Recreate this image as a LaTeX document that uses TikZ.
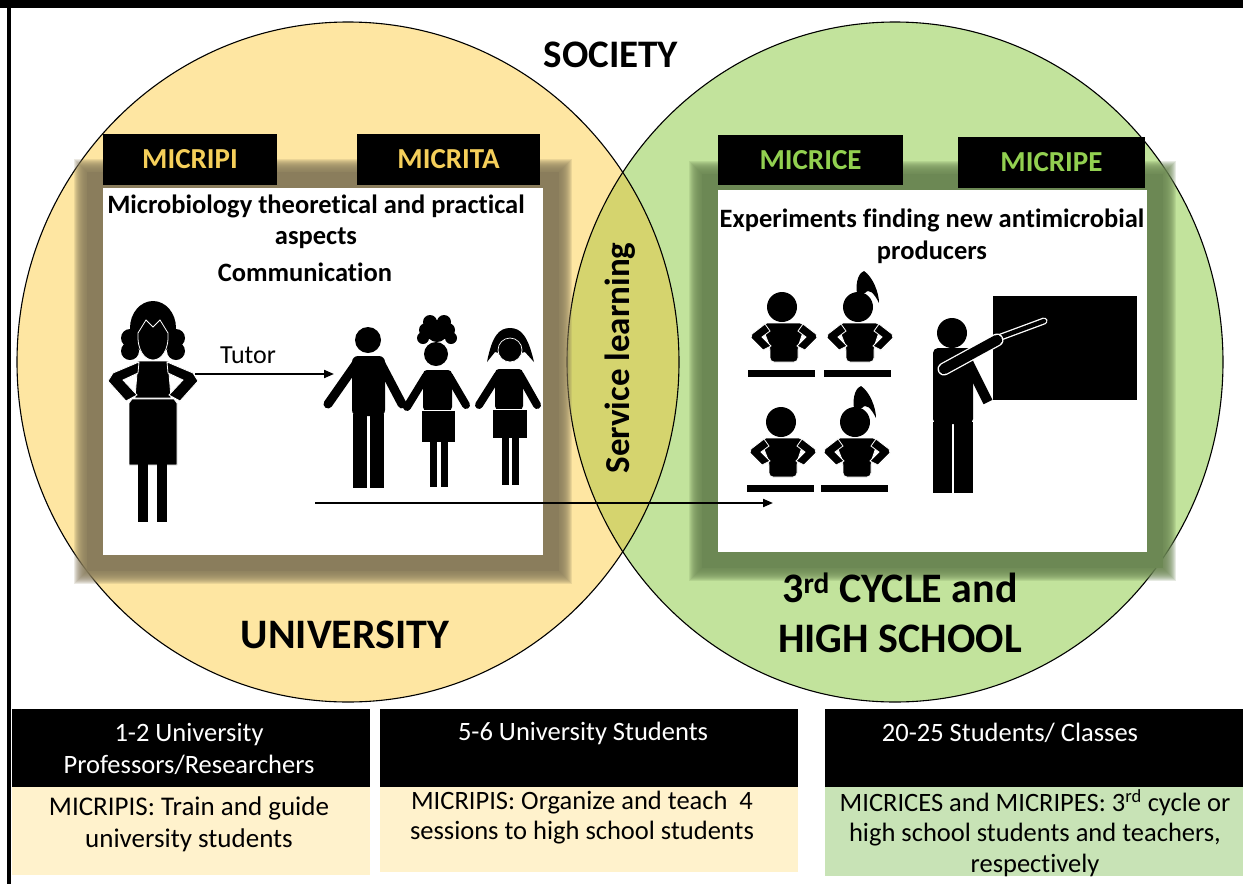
\documentclass[tikz,border=0pt]{standalone}
\usepackage{fontspec}
\setmainfont{Carlito}[Ligatures=NoCommon]
\usetikzlibrary{arrows.meta}

\definecolor{uniFill}{HTML}{FEE6A2}
\definecolor{schoolFill}{HTML}{C2E39C}
\definecolor{lensFill}{HTML}{D5D46E}
\definecolor{uniShade}{HTML}{8A7D5C}
\definecolor{schoolShade}{HTML}{6C8854}
\definecolor{goldText}{HTML}{F5CF5A}
\definecolor{greenText}{HTML}{92D050}
\definecolor{creamBox}{HTML}{FFF2CC}
\definecolor{greenBox}{HTML}{C8E3B6}

\newcommand\fsz[2]{\fontsize{#1pt}{#2pt}\selectfont}

% seated pupil: head centre (#1,#2)
\newcommand\seatedpupil[2]{%
  \fill (#1,#2) circle [radius=15];
  \filldraw[ink, rounded corners=4pt] (#1-19,#2+16) -- (#1+22,#2+16) -- (#1+22,#2+22) -- (#1+16,#2+40)
     -- (#1+16,#2+55) -- (#1-12,#2+55) -- (#1-12,#2+40) -- (#1-19,#2+22) -- cycle;
  \filldraw[ink] (#1-17,#2+17) -- (#1-30,#2+27) -- (#1-31,#2+31) -- (#1-19,#2+43) -- (#1-11,#2+39)
     -- (#1-20,#2+30) -- (#1-12,#2+24) -- cycle;
  \filldraw[ink] (#1+21,#2+17) -- (#1+34,#2+27) -- (#1+35,#2+31) -- (#1+23,#2+43) -- (#1+15,#2+39)
     -- (#1+24,#2+30) -- (#1+16,#2+24) -- cycle;
  \fill (#1-34,#2+63) rectangle (#1+33,#2+70);
}
% ponytail on top of a head centred at (#1,#2)
\newcommand\ponytail[2]{%
  \fill (#1-1,#2-13) .. controls (#1-3,#2-27) and (#1+2,#2-35) .. (#1+6,#2-36)
     .. controls (#1+15,#2-30) and (#1+21,#2-14) .. (#1+21,#2-4)
     .. controls (#1+16,#2-14) and (#1+11,#2-19) .. (#1+7,#2-14) -- cycle;
}
% soft shadow around a panel: colour, x1, y1, x2, y2
\newcommand\panelshadow[5]{%
  \foreach \d in {29,28,...,17}
    \fill[#1, opacity=0.17] (#2-\d,#3-\d) rectangle (#4+\d,#5+\d);
  \fill[#1] (#2-16,#3-16) rectangle (#4+16,#5+16);
}

\begin{document}
\begin{tikzpicture}[x=1pt,y=-1pt,
  tag/.style={fill=black, minimum height=51pt, inner sep=0pt, font=\bfseries\fsz{29}{33}},
  heading/.style={font=\bfseries\fsz{26.5}{31}, align=center},
  big/.style={font=\bfseries\fsz{42}{50}, align=center},
  boxtext/.style={font=\fsz{27}{31}, align=center, inner sep=0pt},
  arr/.style={line width=2pt, -{Triangle[length=10pt,width=8pt]}},
  ink/.style={fill=black, draw=white, line width=0.8pt},
  limb/.style={line width=9pt, line cap=round}]

\useasboundingbox (0,0) rectangle (1243,884);
\fill[white] (0,0) rectangle (1243,884);

% frame
\fill[black] (0,0) rectangle (1243,8);
\fill[black] (7,0) rectangle (11,884);

% the two circles and their overlap
\fill[uniFill] (348,362) ellipse [x radius=331, y radius=340];
\fill[schoolFill] (895,362) ellipse [x radius=328, y radius=340];
\begin{scope}
  \clip (348,362) ellipse [x radius=331, y radius=340];
  \fill[lensFill] (895,362) ellipse [x radius=328, y radius=340];
\end{scope}
\draw[line width=1.1pt] (348,362) ellipse [x radius=331, y radius=340];
\draw[line width=1.1pt] (895,362) ellipse [x radius=328, y radius=340];

\node[font=\bfseries\fsz{39}{43}] (society) at (611,55) {SOCIETY};

% university panel
\panelshadow{uniShade}{103}{188}{543}{555}
\fill[white] (103,188) rectangle (543,555);
\node[tag, text=goldText, minimum width=174pt] (micripi) at (190,159) {MICRIPI};
\node[tag, text=goldText, minimum width=183pt] (micrita) at (448.5,159) {MICRITA};

% school panel
\panelshadow{schoolShade}{718}{190}{1147}{552}
\fill[white] (718,190) rectangle (1147,552);
\node[tag, text=greenText, minimum width=185pt, minimum height=50pt] (micrice) at (810.5,160) {MICRICE};
\node[tag, text=greenText, minimum width=187pt] (micripe) at (1051.5,162.5) {MICRIPE};

% panel texts
\node[heading] (aspects) at (316,222) {Microbiology theoretical and practical\\aspects};
\node[heading] (comm) at (305,272) {Communication};
\node[heading, font=\bfseries\fsz{26.5}{32}] (experiments) at (932,236) {Experiments finding new antimicrobial\\producers};

% tutor (woman)
\fill (153,328) ellipse [x radius=23, y radius=27];
\foreach \cx/\cy in {130/338,130/351,176/338,176/351} \fill (\cx,\cy) circle [radius=9];
\filldraw[ink] (138,333) -- (146,320) -- (153,327) -- (160,320) -- (168,333)
   .. controls (169,351) and (161,360) .. (153,360) .. controls (145,360) and (137,351) .. (138,333) -- cycle;
\filldraw[ink] (138,361) -- (168,361) -- (171,398) -- (135,398) -- cycle;
\filldraw[ink] (139,362) -- (113,373) -- (108,381) -- (126,401) -- (137,395) -- (123,380) -- (138,373) -- cycle;
\filldraw[ink] (167,362) -- (193,373) -- (198,381) -- (180,401) -- (169,395) -- (183,380) -- (168,373) -- cycle;
\filldraw[ink] (132,399) -- (174,399) -- (177,403) -- (177,465) -- (129,465) -- (129,403) -- cycle;
\fill (138,464) rectangle (148,522);
\fill (157,464) rectangle (167,522);

% boy
\fill (368,340) circle [radius=13];
\draw[limb] (356,364) -- (328,404);
\draw[limb] (381,364) -- (402,404);
\fill[rounded corners=6pt] (352,356) rectangle (385,416);
\fill (353,414) rectangle (367,488);
\fill (370,414) rectangle (384,488);

% girl with curly hair
\fill (436,354) circle [radius=12];
\foreach \cx/\cy/\r in {437/331/11,426/330/7,448/330/7,430/322/7,444/322/7,423/338/6,451/338/6}
  \fill (\cx,\cy) circle [radius=\r];
\draw[limb, line width=8pt] (426,376) -- (407,407);
\draw[limb, line width=8pt] (449,376) -- (466,405);
\fill[rounded corners=4pt] (423,370) rectangle (452,411);
\filldraw[ink] (421,410) rectangle (455,442);
\fill (430,441) rectangle (437,487);
\fill (441,441) rectangle (448,487);

% girl with pigtails
\fill (487,362) .. controls (492,336) and (499,328) .. (510,328) .. controls (521,328) and (528,336) .. (534,362)
   -- (525,352) -- (510,356) -- (495,352) -- cycle;
\filldraw[ink, line width=0.7pt] (510,350) circle [radius=12];
\draw[limb, line width=8pt] (498,375) -- (479,405);
\draw[limb, line width=8pt] (520,375) -- (537,405);
\fill[rounded corners=4pt] (495,369) rectangle (523,410);
\filldraw[ink] (492,409) rectangle (527,438);
\fill (502,437) rectangle (509,485);
\fill (512,437) rectangle (519,485);

% classroom
\seatedpupil{782}{307}
\seatedpupil{858}{307}\ponytail{858}{307}
\seatedpupil{781}{422}
\seatedpupil{855}{422}\ponytail{855}{422}

% blackboard and teacher
\fill (993,296) rectangle (1137,400);
\fill (952,333) circle [radius=15];
\fill[rounded corners=5pt] (933,348) rectangle (973,424);
\draw[limb, line width=10pt, line cap=butt] (968,362) -- (988,402);
\fill (933,422) rectangle (952,493);
\fill (954,422) rectangle (973,493);
\draw[white, line width=7pt, line cap=round] (990,341) -- (1044,321);
\draw[black, line width=4.4pt, line cap=round] (990,341) -- (1044,321);
\draw[white, line width=13pt, line cap=round] (944,369) -- (997,340);
\draw[black, line width=10.4pt, line cap=round] (944,369) -- (997,340);

% connectors
\coordinate (tutorTail) at (195,374);
\coordinate (tutorHead) at (334,374);
\draw[arr] (tutorTail) -- (tutorHead);
\node[font=\fsz{26}{30}] (tutor) at (248,355) {Tutor};
\coordinate (linkTail) at (315,503);
\coordinate (linkHead) at (773,503);
\draw[arr] (linkTail) -- (linkHead);

% circle titles
\node[font=\bfseries\fsz{35}{39}, rotate=90] (service) at (620,358) {Service learning};
\node[big] (university) at (345,635) {UNIVERSITY};
\node[big] (school) at (900,613) {3\textsuperscript{rd} CYCLE and\\HIGH SCHOOL};

% summary table
\fill[black] (12,709) rectangle (370,787);
\fill[black] (380,709) rectangle (798,787);
\fill[black] (825,709) rectangle (1243,787);
\fill[creamBox] (12,787) rectangle (370,875);
\fill[creamBox] (380,787) rectangle (798,872);
\fill[greenBox] (825,787) rectangle (1243,876);

\node[boxtext, text=white, font=\fsz{26.5}{32}] (profs) at (189,749) {1-2 University\\Professors/Researchers};
\node[boxtext, text=white, font=\fsz{26.5}{32}] (unistud) at (583,733) {5-6 University Students};
\node[boxtext, text=white, font=\fsz{26.5}{32}] (classes) at (1010,733) {20-25 Students/ Classes};
\node[boxtext, font=\fsz{27}{32}] (train) at (189,824) {MICRIPIS: Train and guide\\university students};
\node[boxtext, font=\fsz{26.5}{30}] (organize) at (582,818) {MICRIPIS: Organize and teach \ 4\\sessions to high school students};
\node[boxtext, font=\fsz{26.5}{30.5}] (teachers) at (1035,833) {MICRICES and MICRIPES: 3\textsuperscript{rd} cycle or\\high school students and teachers,\\respectively};

\end{tikzpicture}
\end{document}
